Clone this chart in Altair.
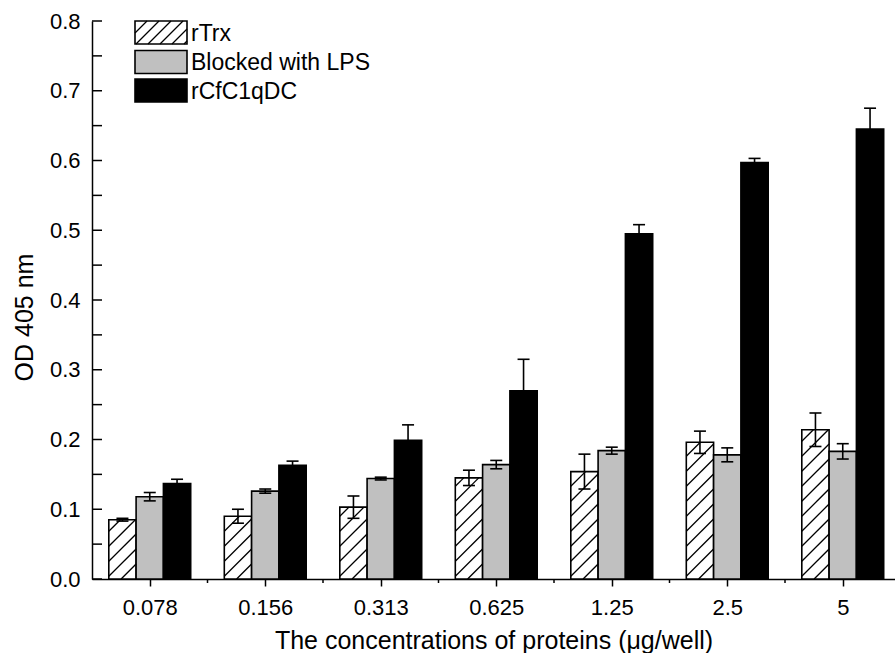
import json
import altair as alt
import pandas as pd

# ---- data ----
conc = ["0.078", "0.156", "0.313", "0.625", "1.25", "2.5", "5"]
series = ["rTrx", "Blocked with LPS", "rCfC1qDC"]
rtrx = [0.085, 0.090, 0.103, 0.145, 0.154, 0.196, 0.214]
rtrx_err = [0.002, 0.010, 0.016, 0.011, 0.025, 0.016, 0.024]
lps = [0.118, 0.126, 0.144, 0.164, 0.184, 0.178, 0.183]
lps_err = [0.006, 0.003, 0.002, 0.006, 0.005, 0.010, 0.011]
c1q = [0.137, 0.163, 0.199, 0.270, 0.495, 0.597, 0.645]
c1q_err = [0.006, 0.006, 0.022, 0.045, 0.013, 0.006, 0.030]
y_major = [0.0, 0.1, 0.2, 0.3, 0.4, 0.5, 0.6, 0.7, 0.8]
y_minor = [0.05, 0.15, 0.25, 0.35, 0.45, 0.55, 0.65, 0.75]

# ---- geometry ----
LEFT, TOP = 92, 21
W, H = 895 - LEFT, 558
PX_X = 115.5
XDOM = [-0.5, -0.5 + W / PX_X]
YDOM = [0.0, 0.8]
PX_Y = H / (YDOM[1] - YDOM[0])
BW = 27.3 / PX_X            # bar width in x units
CAP = 6.0 / PX_X            # half cap width
fills = ["white", "#c0c0c0", "black"]
FONT = "Liberation Sans"

rows = []
for s_i, (vals, errs) in enumerate([(rtrx, rtrx_err), (lps, lps_err), (c1q, c1q_err)]):
    for g, (v, e) in enumerate(zip(vals, errs)):
        c = g + (s_i - 1) * BW
        rows.append(dict(series=series[s_i], conc=conc[g], xc=c,
                         x0=c - BW / 2, x1=c + BW / 2, ca=c - CAP, cb=c + CAP,
                         y0=0.0, v=v, lo=v - e, hi=v + e))
df = pd.DataFrame(rows)

# hatch lines for rTrx bars, 45 degrees in pixel space
hatch = []
SP = 15.0
for g, v in enumerate(rtrx):
    xl = g - BW - BW / 2
    wp, hp = BW * PX_X, v * PX_Y
    k = 1
    while True:
        c = -wp + k * SP
        if c >= hp:
            break
        xa, xb = max(0.0, -c), min(wp, hp - c)
        hatch.append(dict(x0=xl + xa / PX_X, x1=xl + xb / PX_X,
                          y0=(xa + c) / PX_Y, v=(xb + c) / PX_Y))
        k += 1
hdf = pd.DataFrame(hatch)

xscale = alt.Scale(domain=XDOM, nice=False, zero=False)
yscale = alt.Scale(domain=YDOM, nice=False, zero=False)
label_expr = json.dumps(conc) + "[round(datum.value)]"
XT = "The concentrations of proteins (μg/well)"
YT = "OD 405 nm"

xaxis = alt.Axis(values=list(range(len(conc))), labelExpr=label_expr, title=XT,
                 grid=False, tickSize=7, tickWidth=1.5, tickColor="black",
                 domainColor="black", domainWidth=1.5,
                 labelFontSize=22, labelFont=FONT, labelColor="black",
                 labelPadding=11, titleFontSize=25, titleFont=FONT,
                 titleFontWeight="normal", titleColor="black",
                 titleY=69, titleBaseline="alphabetic")
yaxis = alt.Axis(values=y_major, format=".1f", ticks=False, grid=False, title=YT,
                 domainColor="black", domainWidth=1.5,
                 labelFontSize=22, labelFont=FONT, labelColor="black",
                 labelPadding=12, titleFontSize=25, titleFont=FONT,
                 titleFontWeight="normal", titleColor="black",
                 titleX=-60, titleY=296, titleBaseline="alphabetic", titleAlign="center")


def X(f):
    return alt.X(f, scale=xscale, axis=xaxis, title=XT)


def Y(f):
    return alt.Y(f, scale=yscale, axis=yaxis, title=YT)


bars = alt.Chart(df).mark_rect(stroke="black", strokeWidth=1.6).encode(
    x=X("x0:Q"), x2="x1:Q", y=Y("y0:Q"), y2="v:Q",
    fill=alt.Fill("series:N", scale=alt.Scale(domain=series, range=fills), legend=None),
)

hatch_lines = alt.Chart(hdf).mark_rule(color="black", strokeWidth=1.3).encode(
    x=X("x0:Q"), x2="x1:Q", y=Y("y0:Q"), y2="v:Q",
)

err_v = alt.Chart(df).mark_rule(color="black", strokeWidth=1.6).encode(
    x=X("xc:Q"), y=Y("lo:Q"), y2="hi:Q",
)
cap_hi = alt.Chart(df).mark_rule(color="black", strokeWidth=1.6).encode(
    x=X("ca:Q"), x2="cb:Q", y=Y("hi:Q"),
)
cap_lo = alt.Chart(df).mark_rule(color="black", strokeWidth=1.6).encode(
    x=X("ca:Q"), x2="cb:Q", y=Y("lo:Q"),
)

# inward y ticks
yt_major = alt.Chart(pd.DataFrame({"t": y_major})).mark_rule(color="black", strokeWidth=1.5).encode(
    y=Y("t:Q"), x=alt.value(0), x2=alt.value(10))
yt_minor = alt.Chart(pd.DataFrame({"t": y_minor})).mark_rule(color="black", strokeWidth=1.5).encode(
    y=Y("t:Q"), x=alt.value(0), x2=alt.value(10))
# minor x ticks at group boundaries (outward)
xt_minor = alt.Chart(pd.DataFrame({"t": [g + 0.5 for g in range(len(conc) - 1)]})).mark_rule(
    color="black", strokeWidth=1.5).encode(
    x=X("t:Q"), y=alt.value(H), y2=alt.value(H + 4))

# ---- custom legend ----
one = alt.Data(values=[{}])
LX0, LX1 = 43, 95
row_top = [0, 29.5, 58]
BH = 23
legend_layers = []
for i, name in enumerate(series):
    legend_layers.append(alt.Chart(one).mark_rect(fill=fills[i], stroke="black", strokeWidth=1.6).encode(
        x=alt.value(LX0), x2=alt.value(LX1), y=alt.value(row_top[i]), y2=alt.value(row_top[i] + BH)))
    legend_layers.append(alt.Chart(one).mark_text(align="left", baseline="alphabetic", fontSize=23,
                                                  font=FONT, color="black").encode(
        x=alt.value(LX1 + 4), y=alt.value(row_top[i] + BH / 2 + 8), text=alt.value(name)))
# hatch in first legend box
t0, t1 = row_top[0], row_top[0] + BH
k = 1
while True:
    c = k * 12.0
    xs, ys = LX0 + c - BH, t1
    xe, ye = LX0 + c, t0
    if xs >= LX1:
        break
    if xs < LX0:
        ys = t1 - (LX0 - xs)
        xs = LX0
    if xe > LX1:
        ye = t0 + (xe - LX1)
        xe = LX1
    legend_layers.append(alt.Chart(one).mark_rule(color="black", strokeWidth=1.3).encode(
        x=alt.value(xs), x2=alt.value(xe), y=alt.value(ys), y2=alt.value(ye)))
    k += 1

chart = alt.layer(bars, hatch_lines, err_v, cap_hi, cap_lo, yt_major, yt_minor, xt_minor,
                  *legend_layers).properties(
    width=W, height=H,
    autosize=alt.AutoSizeParams(type="none"),
    padding={"left": LEFT, "top": TOP, "right": 0, "bottom": 653 - TOP - H},
    background="white",
).configure_view(stroke=None)

chart.save("out.html", embed_options={"renderer": "svg", "actions": False})
